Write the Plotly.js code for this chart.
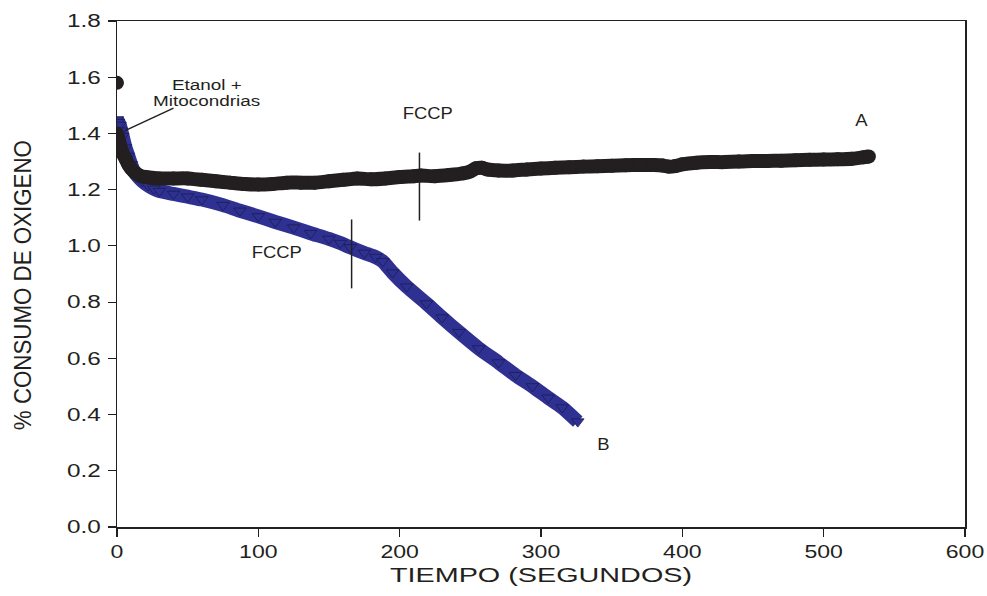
<!DOCTYPE html>
<html>
<head>
<meta charset="utf-8">
<script src="https://cdn.plot.ly/plotly-3.0.1.min.js"></script>
<style>html,body{margin:0;padding:0;background:#fff}#chart{width:987px;height:596px}</style>
</head>
<body>
<div id="chart"></div>
<script>
// Series A (black circles)
const aStartX = [0];
const aStartY = [1.58];
const aX = [0, 1, 2, 4, 6, 8, 10, 13, 16, 20, 30, 40, 50, 60, 70, 80, 90, 100, 110, 120, 130, 140, 150, 160, 170, 180, 190, 200, 210, 215, 225, 235, 245, 250, 254, 258, 262, 270, 280, 290, 300, 310, 320, 330, 340, 350, 360, 370, 380, 386, 390, 395, 400, 410, 420, 430, 440, 450, 460, 470, 480, 490, 500, 510, 520, 528, 532];
const aY = [1.40, 1.38, 1.36, 1.33, 1.31, 1.29, 1.275, 1.26, 1.25, 1.245, 1.24, 1.24, 1.24, 1.235, 1.23, 1.225, 1.22, 1.218, 1.22, 1.225, 1.225, 1.225, 1.23, 1.235, 1.24, 1.237, 1.24, 1.245, 1.248, 1.25, 1.248, 1.252, 1.258, 1.265, 1.276, 1.278, 1.272, 1.268, 1.268, 1.272, 1.275, 1.278, 1.28, 1.282, 1.283, 1.285, 1.287, 1.288, 1.288, 1.286, 1.282, 1.284, 1.29, 1.296, 1.298, 1.298, 1.3, 1.302, 1.302, 1.303, 1.305, 1.306, 1.307, 1.308, 1.31, 1.315, 1.318];

// Series B (blue triangles)
const bX = [0, 1, 2, 3, 4, 6, 8, 10, 12, 15, 18, 22, 26, 30, 40, 50, 60, 75, 87, 100, 112, 125, 137, 150, 158, 165, 175, 183, 188, 195, 205, 219, 230, 242, 256, 270, 282, 294, 305, 315, 326];
const bY = [1.45, 1.44, 1.43, 1.41, 1.39, 1.35, 1.32, 1.29, 1.265, 1.245, 1.23, 1.215, 1.203, 1.195, 1.185, 1.175, 1.165, 1.145, 1.125, 1.105, 1.085, 1.065, 1.045, 1.025, 1.01, 0.995, 0.975, 0.96, 0.945, 0.905, 0.855, 0.795, 0.745, 0.693, 0.635, 0.585, 0.54, 0.50, 0.46, 0.425, 0.375];

const xTicks = [0, 100, 200, 300, 400, 500, 600];
const yTicks = [0.0, 0.2, 0.4, 0.6, 0.8, 1.0, 1.2, 1.4, 1.6, 1.8];
const yTickText = ["0.0", "0.2", "0.4", "0.6", "0.8", "1.0", "1.2", "1.4", "1.6", "1.8"];

const BLACK = '#231f20';
const BLUE = '#2e3192';
const FONT = 'Liberation Sans, Arial, sans-serif';

const traces = [
  {
    x: bX, y: bY, type: 'scatter', mode: 'lines+markers',
    line: {color: BLUE, width: 14, shape: 'spline', smoothing: 0.5},
    marker: {symbol: 'triangle-down', size: 11, color: BLUE, line: {color: '#1c1c50', width: 0.8}},
    hoverinfo: 'skip', showlegend: false
  },
  {
    x: aX, y: aY, type: 'scatter', mode: 'lines+markers',
    line: {color: BLACK, width: 14, shape: 'spline', smoothing: 0.5},
    marker: {symbol: 'circle', size: 14, color: BLACK},
    hoverinfo: 'skip', showlegend: false
  },
  {
    x: aStartX, y: aStartY, type: 'scatter', mode: 'markers',
    marker: {symbol: 'circle', size: 14, color: BLACK},
    hoverinfo: 'skip', showlegend: false
  }
];

const layout = {
  width: 987, height: 596,
  margin: {l: 117, r: 22, t: 21, b: 69},
  paper_bgcolor: '#fff', plot_bgcolor: '#fff',
  font: {family: FONT, color: BLACK},
  xaxis: {
    range: [0, 600], tickvals: xTicks, ticktext: xTicks.map(String),
    showgrid: false, zeroline: false, showline: true, mirror: true,
    linecolor: BLACK, linewidth: 1.5,
    ticks: 'outside', ticklen: 8, tickwidth: 1.2, tickcolor: BLACK,
    tickfont: {family: FONT, size: 18, color: BLACK},
    title: {text: 'TIEMPO (SEGUNDOS)', font: {family: FONT, size: 21, color: BLACK}, standoff: 6}
  },
  yaxis: {
    range: [0, 1.8], tickvals: yTicks, ticktext: yTickText,
    showgrid: false, zeroline: false, showline: true, mirror: true,
    linecolor: BLACK, linewidth: 1.5,
    ticks: 'outside', ticklen: 8, tickwidth: 1.2, tickcolor: BLACK,
    ticklabelstandoff: 3,
    tickfont: {family: FONT, size: 18, color: BLACK}
  },
  shapes: [
    {type: 'line', xref: 'x', yref: 'y', x0: 5.7, y0: 1.41, x1: 40, y1: 1.49, line: {color: BLACK, width: 1.5}},
    {type: 'line', xref: 'x', yref: 'y', x0: 214, y0: 1.332, x1: 214, y1: 1.09, line: {color: BLACK, width: 1.5}},
    {type: 'line', xref: 'x', yref: 'y', x0: 166, y0: 1.094, x1: 166, y1: 0.849, line: {color: BLACK, width: 1.5}}
  ],
  annotations: [
    {x: -0.112, y: 0.478, xref: 'paper', yref: 'paper', text: '% CONSUMO DE OXIGENO', textangle: -90, showarrow: false, xanchor: 'center', yanchor: 'middle', font: {family: FONT, size: 24, color: BLACK}},
    {x: 63.6, y: 1.573, xref: 'x', yref: 'y', text: 'Etanol +', showarrow: false, borderpad: 0, font: {family: FONT, size: 14, color: BLACK}},
    {x: 63.6, y: 1.514, xref: 'x', yref: 'y', text: 'Mitocondrias', showarrow: false, borderpad: 0, font: {family: FONT, size: 14, color: BLACK}},
    {x: 220, y: 1.47, xref: 'x', yref: 'y', text: 'FCCP', showarrow: false, font: {family: FONT, size: 16, color: BLACK}},
    {x: 113, y: 0.977, xref: 'x', yref: 'y', text: 'FCCP', showarrow: false, font: {family: FONT, size: 16, color: BLACK}},
    {x: 527, y: 1.446, xref: 'x', yref: 'y', text: 'A', showarrow: false, font: {family: FONT, size: 16, color: BLACK}},
    {x: 344, y: 0.295, xref: 'x', yref: 'y', text: 'B', showarrow: false, font: {family: FONT, size: 16, color: BLACK}}
  ]
};

function stretch(el, factor, fixedLen) {
  const len = fixedLen || el.getComputedTextLength() * factor;
  el.setAttribute('textLength', len);
  el.setAttribute('lengthAdjust', 'spacingAndGlyphs');
}

Plotly.newPlot('chart', traces, layout, {displayModeBar: false, staticPlot: true}).then(function (gd) {
  gd.querySelectorAll('.xtick text').forEach(function (t) { stretch(t, 1.28); });
  gd.querySelectorAll('.ytick text').forEach(function (t) { stretch(t, 1.35); });
  gd.querySelectorAll('.g-xtitle text').forEach(function (t) { stretch(t, 1.37); });
  gd.querySelectorAll('text.annotation-text').forEach(function (t) {
    const s = t.textContent;
    if (s.indexOf('CONSUMO') >= 0) stretch(t, 1, 290);
    else if (s === 'FCCP') stretch(t, 1.15);
    else if (s === 'A' || s === 'B') stretch(t, 1.15);
    else stretch(t, 1.35);
  });
});
</script>
</body>
</html>
